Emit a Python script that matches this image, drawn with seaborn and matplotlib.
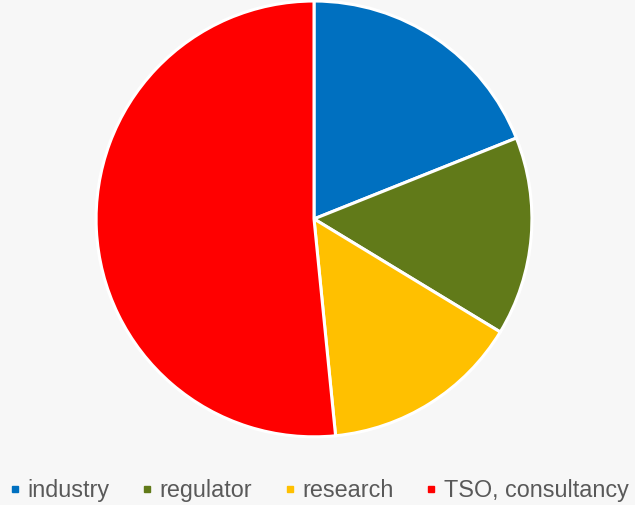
import matplotlib
matplotlib.use('Agg')
import matplotlib.pyplot as plt
from matplotlib.lines import Line2D
import seaborn as sns

# share of participants per group
labels = ['industry', 'regulator', 'research', 'TSO, consultancy']
counts = [18, 14, 14, 49]
colors = ['#0070C0', '#617A19', '#FFC000', '#FF0000']


def run():
    sns.set_style('white')
    plt.rcParams['font.family'] = ['Liberation Sans', 'DejaVu Sans']
    pal = sns.color_palette(colors)

    fig = plt.figure(figsize=(6.35, 5.05), dpi=100, facecolor='#f7f7f7')
    ax = fig.add_axes([0.151, 0.135, 0.687, 0.863])
    ax.set_facecolor('none')

    ax.pie(counts, colors=pal, startangle=90, counterclock=False,
           wedgeprops=dict(edgecolor='white', linewidth=2.2))
    ax.set_xlim(-1.0, 1.0)
    ax.set_ylim(-1.0, 1.0)
    ax.set_aspect('equal')

    # legend along the bottom, small square markers
    handles = [Line2D([], [], marker='s', color=c, linestyle='', markersize=4.5)
               for c in pal]
    fig.legend(handles, labels, loc='center', bbox_to_anchor=(0.503, 0.029),
               ncol=4, frameon=False, fontsize=16.8, handlelength=0.4,
               handletextpad=0.35, columnspacing=1.4, labelcolor='#595959',
               borderpad=0, borderaxespad=0)

    fig.savefig('out.png', dpi=100, facecolor=fig.get_facecolor())


if __name__ == '__main__':
    run()
